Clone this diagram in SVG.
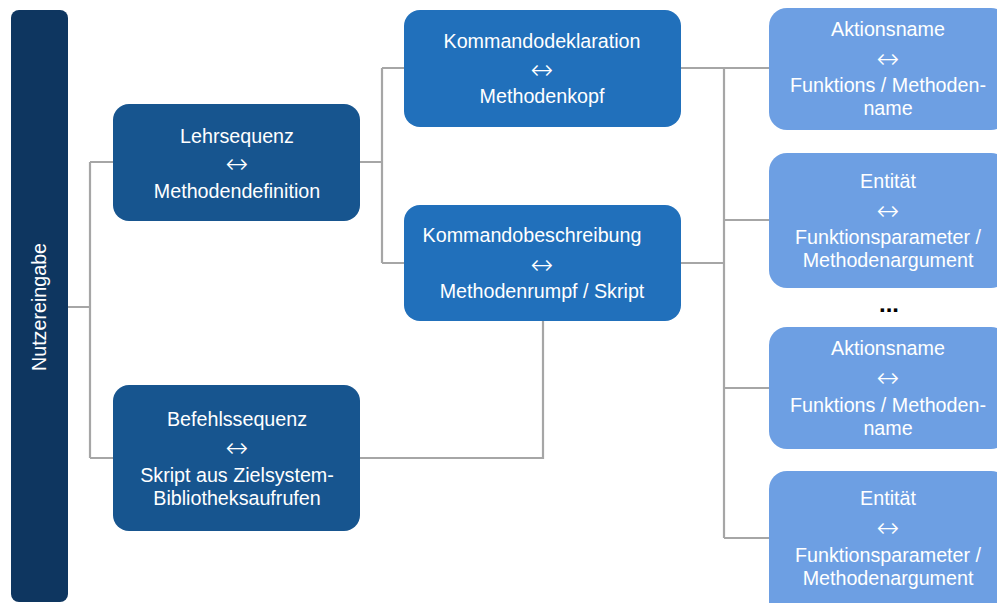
<svg xmlns="http://www.w3.org/2000/svg" width="997" height="603" viewBox="0 0 997 603">
  <style>
    .lbl { font-family: "Liberation Sans", Arial, sans-serif; font-size: 19.7px; fill: #ffffff; text-anchor: middle; }
    .arr { font-family: "DejaVu Sans", sans-serif; font-size: 27px; font-weight: 200; fill: #ffffff; text-anchor: middle; }
    .wire { fill: none; stroke: #a6a6a6; stroke-width: 2.2; }
    .n1 { fill: #17558f; }
    .n2 { fill: #2170bb; }
    .n3 { fill: #6d9fe3; }
  </style>
  <rect width="997" height="603" fill="#ffffff"/>

  <!-- connectors -->
  <g id="connectors">
    <path class="wire" d="M68 307 H90 M90 162 V458 M90 162 H113 M90 458 H113"/>
    <path class="wire" d="M360 162 H382 M382 68 V263 M382 68 H404 M382 263 H404"/>
    <path class="wire" d="M360 458 H543 V321"/>
    <path class="wire" d="M681 68 H769 M681 263 H724 M724 68 V538 M724 220 H769 M724 388 H769 M724 538 H769"/>
  </g>

  <!-- root bar -->
  <g id="nutzereingabe">
    <rect x="11" y="10" width="57" height="592" rx="8" fill="#0e3660"/>
    <text class="lbl" transform="translate(46 307) rotate(-90)">Nutzereingabe</text>
  </g>

  <g id="lehrsequenz">
    <rect class="n1" x="113" y="104" width="247" height="117" rx="16"/>
    <text class="lbl" x="237" y="143">Lehrsequenz</text>
    <text class="arr" x="237" y="173">↔</text>
    <text class="lbl" x="237" y="198">Methodendefinition</text>
  </g>

  <g id="befehlssequenz">
    <rect class="n1" x="113" y="385" width="247" height="146" rx="16"/>
    <text class="lbl" x="237" y="426">Befehlssequenz</text>
    <text class="arr" x="237" y="457">↔</text>
    <text class="lbl" x="237" y="482">Skript aus Zielsystem-</text>
    <text class="lbl" x="237" y="505">Bibliotheksaufrufen</text>
  </g>

  <g id="kommandodeklaration">
    <rect class="n2" x="404" y="10" width="277" height="117" rx="16"/>
    <text class="lbl" x="542" y="48">Kommandodeklaration</text>
    <text class="arr" x="542" y="79">↔</text>
    <text class="lbl" x="542" y="103">Methodenkopf</text>
  </g>

  <g id="kommandobeschreibung">
    <rect class="n2" x="404" y="205" width="277" height="116" rx="16"/>
    <text class="lbl" x="532" y="242">Kommandobeschreibung</text>
    <text class="arr" x="542" y="274">↔</text>
    <text class="lbl" x="542" y="298">Methodenrumpf / Skript</text>
  </g>

  <g id="aktionsname-1">
    <rect class="n3" x="769" y="8" width="240" height="122" rx="18"/>
    <text class="lbl" x="888" y="36">Aktionsname</text>
    <text class="arr" x="888" y="68">↔</text>
    <text class="lbl" x="888" y="92">Funktions / Methoden-</text>
    <text class="lbl" x="888" y="115">name</text>
  </g>

  <g id="entitaet-1">
    <rect class="n3" x="769" y="153" width="240" height="135" rx="18"/>
    <text class="lbl" x="888" y="188">Entität</text>
    <text class="arr" x="888" y="220">↔</text>
    <text class="lbl" x="888" y="244">Funktionsparameter /</text>
    <text class="lbl" x="888" y="267">Methodenargument</text>
  </g>

  <g id="ellipsis">
    <text x="889" y="312" font-family="Liberation Sans, Arial, sans-serif" font-size="24" font-weight="bold" fill="#000000" text-anchor="middle">...</text>
  </g>

  <g id="aktionsname-2">
    <rect class="n3" x="769" y="327" width="240" height="122" rx="18"/>
    <text class="lbl" x="888" y="355">Aktionsname</text>
    <text class="arr" x="888" y="387">↔</text>
    <text class="lbl" x="888" y="412">Funktions / Methoden-</text>
    <text class="lbl" x="888" y="435">name</text>
  </g>

  <g id="entitaet-2">
    <rect class="n3" x="769" y="471" width="240" height="150" rx="18"/>
    <text class="lbl" x="888" y="505">Entität</text>
    <text class="arr" x="888" y="537">↔</text>
    <text class="lbl" x="888" y="562">Funktionsparameter /</text>
    <text class="lbl" x="888" y="585">Methodenargument</text>
  </g>
</svg>
